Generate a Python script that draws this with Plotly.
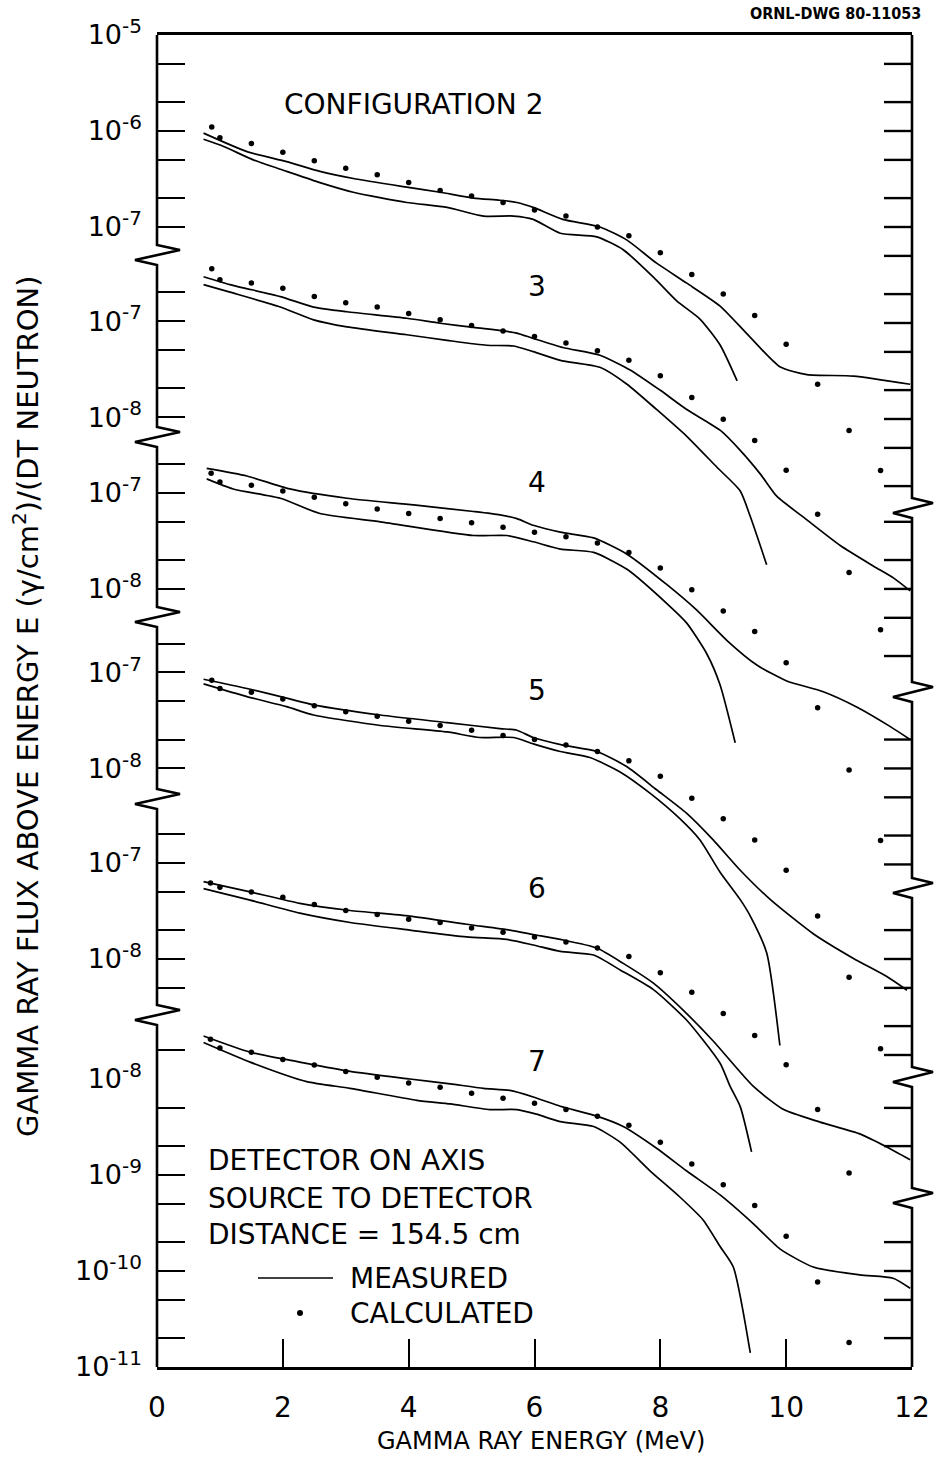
import numpy as np
import plotly.graph_objects as go

# ---------------- data ----------------
# Calculated points: energies (MeV)
calc_E = [0.87, 1.0, 1.5, 2.0, 2.5, 3.0, 3.5, 4.0, 4.5, 5.0, 5.5, 6.0, 6.5,
          7.0, 7.5, 8.0, 8.5, 9.0, 9.5, 10.0, 10.5, 11.0, 11.5]

# Configuration 2
c2_hi_E = [0.74, 1.43, 2.06, 2.59, 3.12, 3.97, 4.50, 5.03, 5.45, 5.72, 5.98, 6.45, 7.04, 7.47,
           7.94, 8.42, 8.95, 9.37, 9.90, 10.33, 11.07, 11.97]
c2_hi = [9.5e-7, 6.1e-7, 4.8e-7, 3.8e-7, 3.2e-7, 2.6e-7, 2.3e-7, 2.0e-7, 1.9e-7, 1.8e-7, 1.6e-7,
         1.2e-7, 1.0e-7, 7.3e-8, 4.2e-8, 2.6e-8, 1.5e-8, 7.8e-9, 3.5e-9, 2.9e-9, 2.8e-9, 2.3e-9]
c2_lo_E = [0.74, 1.06, 1.53, 2.06, 2.59, 3.12, 3.97, 4.61, 5.19, 5.67, 5.98, 6.41, 6.99, 7.41,
           7.89, 8.26, 8.63, 8.95, 9.22]
c2_lo = [8.2e-7, 6.9e-7, 5.0e-7, 3.8e-7, 2.9e-7, 2.3e-7, 1.8e-7, 1.6e-7, 1.3e-7, 1.3e-7, 1.2e-7,
         8.6e-8, 7.9e-8, 5.8e-8, 3.0e-8, 1.7e-8, 1.1e-8, 5.9e-9, 2.5e-9]
c2_calc = [1.1e-6, 8.5e-7, 7.4e-7, 6.0e-7, 4.9e-7, 4.1e-7, 3.5e-7, 2.9e-7, 2.4e-7, 2.1e-7, 1.8e-7,
           1.5e-7, 1.3e-7, 1.0e-7, 8.1e-8, 5.4e-8, 3.2e-8, 2.0e-8, 1.2e-8, 6.0e-9, 2.3e-9,
           7.6e-10, 2.9e-10]

# Configuration 3
c3_hi_E = [0.74, 1.16, 1.96, 2.49, 3.02, 3.97, 4.50, 5.03, 5.51, 5.72, 5.98, 6.45, 7.04, 7.52,
           8.00, 8.42, 8.95, 9.27, 9.60, 9.85, 10.33, 10.86, 11.39, 11.71, 11.97]
c3_hi = [2.9e-7, 2.4e-7, 1.8e-7, 1.4e-7, 1.25e-7, 1.07e-7, 9.5e-8, 8.6e-8, 7.9e-8, 7.5e-8, 6.6e-8,
         5.3e-8, 4.4e-8, 3.1e-8, 1.9e-8, 1.2e-8, 7.3e-9, 4.5e-9, 2.5e-9, 1.5e-9, 8.5e-10,
         4.6e-10, 2.8e-10, 2.1e-10, 1.55e-10]
c3_lo_E = [0.74, 1.16, 1.96, 2.49, 3.02, 3.97, 4.61, 5.24, 5.67, 5.98, 6.41, 7.04, 7.47, 7.94,
           8.42, 8.90, 9.27, 9.43, 9.69]
c3_lo = [2.4e-7, 2.0e-7, 1.4e-7, 1.03e-7, 8.7e-8, 7.2e-8, 6.3e-8, 5.6e-8, 5.5e-8, 4.8e-8, 3.9e-8,
         3.3e-8, 2.2e-8, 1.2e-8, 6.3e-9, 3.0e-9, 1.7e-9, 9.2e-10, 2.9e-10]
c3_calc = [3.5e-7, 2.7e-7, 2.5e-7, 2.2e-7, 1.8e-7, 1.55e-7, 1.4e-7, 1.2e-7, 1.03e-7, 9.0e-8, 7.9e-8,
           6.9e-8, 5.9e-8, 4.9e-8, 3.9e-8, 2.7e-8, 1.6e-8, 9.5e-9, 5.7e-9, 2.8e-9, 9.7e-10,
           2.4e-10, 6.1e-11]

# Configuration 4
c4_hi_E = [0.79, 1.43, 2.11, 3.02, 4.08, 5.03, 5.45, 5.72, 5.98, 6.41, 6.94, 7.47, 8.11, 8.58,
           9.06, 9.54, 10.01, 10.59, 11.12, 11.65, 11.97]
c4_hi = [1.8e-7, 1.5e-7, 1.1e-7, 8.8e-8, 7.5e-8, 6.4e-8, 5.9e-8, 5.4e-8, 4.6e-8, 3.9e-8, 3.4e-8,
         2.3e-8, 1.1e-8, 6.0e-9, 2.9e-9, 1.6e-9, 1.1e-9, 8.5e-10, 5.9e-10, 3.7e-10, 2.7e-10]
c4_lo_E = [0.79, 1.21, 1.96, 2.59, 3.55, 5.03, 5.56, 5.98, 6.41, 6.94, 7.47, 8.16, 8.42, 8.74,
           8.95, 9.19]
c4_lo = [1.4e-7, 1.1e-7, 8.8e-8, 6.1e-8, 5.0e-8, 3.6e-8, 3.6e-8, 3.1e-8, 2.6e-8, 2.4e-8, 1.6e-8,
         6.5e-9, 4.4e-9, 2.1e-9, 1.0e-9, 2.5e-10]
c4_calc = [1.6e-7, 1.3e-7, 1.2e-7, 1.05e-7, 9.0e-8, 7.7e-8, 6.8e-8, 6.1e-8, 5.4e-8, 4.9e-8, 4.4e-8,
           3.9e-8, 3.5e-8, 3.0e-8, 2.4e-8, 1.65e-8, 9.8e-9, 5.9e-9, 3.6e-9, 1.7e-9, 5.8e-10,
           1.3e-10, 2.4e-11]

# Configuration 5
c5_hi_E = [0.74, 1.43, 2.06, 2.49, 3.55, 4.61, 5.45, 5.72, 5.98, 6.45, 6.99, 7.47, 7.94, 8.42,
           8.84, 9.27, 9.75, 10.43, 11.07, 11.60, 11.92]
c5_hi = [8.5e-8, 6.8e-8, 5.4e-8, 4.6e-8, 3.6e-8, 3.0e-8, 2.6e-8, 2.5e-8, 2.1e-8, 1.75e-8, 1.5e-8,
         1.04e-8, 6.0e-9, 3.4e-9, 1.8e-9, 8.7e-10, 4.3e-10, 1.9e-10, 1.05e-10,
         6.8e-11, 4.9e-11]
c5_lo_E = [0.74, 1.43, 2.06, 2.49, 3.55, 4.61, 5.13, 5.67, 5.98, 6.41, 6.88, 7.36, 7.84, 8.31,
           8.63, 8.95, 9.27, 9.43, 9.69, 9.90]
c5_lo = [7.6e-8, 5.6e-8, 4.4e-8, 3.6e-8, 2.8e-8, 2.4e-8, 2.1e-8, 2.1e-8, 1.8e-8, 1.5e-8, 1.3e-8,
         9.2e-9, 5.5e-9, 3.0e-9, 1.8e-9, 8.3e-10, 4.3e-10, 2.9e-10, 1.2e-10, 1.3e-11]
c5_calc = [8.3e-8, 6.8e-8, 6.2e-8, 5.3e-8, 4.5e-8, 3.9e-8, 3.5e-8, 3.1e-8, 2.8e-8, 2.5e-8, 2.2e-8,
           2.0e-8, 1.75e-8, 1.5e-8, 1.2e-8, 8.3e-9, 4.9e-9, 3.0e-9, 1.8e-9, 8.7e-10, 2.9e-10,
           6.7e-11, 1.2e-11]

# Configuration 6
c6_hi_E = [0.74, 1.48, 2.27, 3.07, 4.02, 4.92, 5.61, 5.98, 6.41, 6.99, 7.41, 7.89, 8.37, 8.84,
           9.48, 9.96, 10.54, 11.18, 11.60, 11.97]
c6_hi = [6.4e-8, 5.0e-8, 3.8e-8, 3.2e-8, 2.8e-8, 2.3e-8, 2.0e-8, 1.8e-8, 1.6e-8, 1.3e-8, 9.0e-9,
         5.6e-9, 2.9e-9, 1.4e-9, 4.7e-10, 2.7e-10, 2.0e-10, 1.5e-10, 1.1e-10, 8.1e-11]
c6_lo_E = [0.74, 1.48, 2.27, 3.07, 4.02, 4.92, 5.56, 5.98, 6.41, 6.94, 7.36, 7.89, 8.42, 8.95,
           9.11, 9.27, 9.45]
c6_lo = [5.4e-8, 4.1e-8, 3.0e-8, 2.4e-8, 2.0e-8, 1.7e-8, 1.6e-8, 1.4e-8, 1.2e-8, 1.1e-8, 7.7e-9,
         4.8e-9, 2.3e-9, 8.2e-10, 4.7e-10, 2.9e-10, 9.8e-11]
c6_calc = [6.2e-8, 5.6e-8, 5.0e-8, 4.4e-8, 3.7e-8, 3.2e-8, 2.9e-8, 2.6e-8, 2.4e-8, 2.1e-8, 1.9e-8,
           1.7e-8, 1.5e-8, 1.3e-8, 1.06e-8, 7.2e-9, 4.5e-9, 2.7e-9, 1.6e-9, 7.9e-10, 2.7e-10,
           5.9e-11]

# Configuration 7
c7_hi_E = [0.74, 1.48, 2.27, 3.07, 4.02, 4.66, 5.19, 5.61, 5.98, 6.41, 6.99, 7.41, 7.94, 8.42,
           8.95, 9.48, 9.90, 10.43, 11.17, 11.70, 11.97]
c7_hi = [2.8e-8, 1.9e-8, 1.5e-8, 1.2e-8, 1.0e-8, 8.9e-9, 8.0e-9, 7.6e-9, 6.5e-9, 5.2e-9, 4.1e-9,
         3.2e-9, 1.9e-9, 1.1e-9, 6.2e-10, 3.1e-10, 1.7e-10, 1.1e-10, 9.1e-11, 8.4e-11, 6.6e-11]
c7_lo_E = [0.74, 1.48, 2.38, 3.07, 4.13, 4.66, 5.29, 5.72, 6.03, 6.41, 6.94, 7.36, 7.84, 8.31,
           8.68, 8.95, 9.16, 9.43]
c7_lo = [2.4e-8, 1.5e-8, 9.4e-9, 8.0e-9, 6.0e-9, 5.5e-9, 4.8e-9, 4.8e-9, 4.3e-9, 3.6e-9, 3.2e-9,
         2.2e-9, 1.1e-9, 5.9e-10, 3.4e-10, 1.8e-10, 1.1e-10, 1.4e-11]
c7_calc = [2.6e-8, 2.1e-8, 1.9e-8, 1.6e-8, 1.4e-8, 1.2e-8, 1.04e-8, 9.1e-9, 8.2e-9, 7.1e-9, 6.3e-9,
           5.6e-9, 4.8e-9, 4.1e-9, 3.3e-9, 2.2e-9, 1.3e-9, 7.9e-10, 4.8e-10, 2.3e-10, 7.7e-11,
           1.8e-11]

# x-axis ticks
x_ticks = [0, 2, 4, 6, 8, 10, 12]

# left-axis tick marks (each in its own configuration's stacked scale)
left_ticks = {
    2: [5e-6, 2e-6, 1e-6, 5e-7, 2e-7, 1e-7],
    3: [2e-7, 1e-7, 5e-8, 2e-8, 1e-8],
    4: [2e-7, 1e-7, 5e-8, 2e-8, 1e-8],
    5: [2e-7, 1e-7, 5e-8, 2e-8, 1e-8],
    6: [2e-7, 1e-7, 5e-8, 2e-8, 1e-8, 5e-9],
    7: [2e-8, 5e-9, 2e-9, 1e-9, 5e-10, 2e-10, 1e-10, 5e-11, 2e-11],
}
# left-axis labelled values
left_labels = {
    2: [1e-5, 1e-6, 1e-7], 3: [1e-7, 1e-8], 4: [1e-7, 1e-8], 5: [1e-7, 1e-8],
    6: [1e-7, 1e-8], 7: [1e-8, 1e-9, 1e-10, 1e-11],
}
# right-axis tick marks
right_ticks = [
    (2, [5e-6, 2e-6, 1e-6, 5e-7, 2e-7, 1e-7, 5e-8, 2e-8, 1e-8, 5e-9, 2e-9, 1e-9, 5e-10, 2e-10]),
    (4, [5e-8, 2e-8, 1e-8, 5e-9, 2e-9]),
    (5, [2e-8, 1e-8, 5e-9, 2e-9, 1e-9]),
    (6, [2e-8, 1e-8, 5e-9, 2e-9, 1e-9]),
    (7, [5e-9, 2e-9]),
    (7, [2e-10, 1e-10, 5e-11, 2e-11]),
]

# ---------------- layout constants ----------------
# vertical displacement (in decades) of each stacked configuration
SHIFT = {2: 0.0, 3: 0.98, 4: 2.77, 5: 4.64, 6: 6.625, 7: 7.875}
Y_RANGE = [-18.875, -5.0]

W, H = 935, 1464
ML, MR, MT, MB = 157, 23, 35, 97
PW, PH = W - ML - MR, H - MT - MB
FONT = "DejaVu Sans"
TICKLEN = 28


def stack(cfg, vals):
    return (np.asarray(vals, dtype=float) * 10.0 ** (-SHIFT[cfg])).tolist()


def sup(v):
    return "10<sup><span style='font-size:20px'>%d</span></sup>" % int(round(np.log10(v)))


def pxx(x):
    return (x - ML) / PW


def pxy(y):
    return 1 - (y - MT) / PH


def log_to_paper(v):
    return (np.log10(v) - Y_RANGE[0]) / (Y_RANGE[1] - Y_RANGE[0])


fig = go.Figure()

series = [
    (2, c2_hi_E, c2_hi, c2_lo_E, c2_lo, calc_E, c2_calc),
    (3, c3_hi_E, c3_hi, c3_lo_E, c3_lo, calc_E, c3_calc),
    (4, c4_hi_E, c4_hi, c4_lo_E, c4_lo, [0.86] + calc_E[1:], c4_calc),
    (5, c5_hi_E, c5_hi, c5_lo_E, c5_lo, calc_E, c5_calc),
    (6, c6_hi_E, c6_hi, c6_lo_E, c6_lo, [0.85] + calc_E[1:len(c6_calc)], c6_calc),
    (7, c7_hi_E, c7_hi, c7_lo_E, c7_lo, [0.85] + calc_E[1:len(c7_calc)], c7_calc),
]
for cfg, he, hv, le, lv, ce, cv in series:
    for ee, vv in ((he, hv), (le, lv)):
        fig.add_trace(go.Scatter(x=ee, y=stack(cfg, vv), mode="lines",
                                 line=dict(color="black", width=1.7, shape="spline", smoothing=0.6),
                                 showlegend=False, hoverinfo="skip"))
    fig.add_trace(go.Scatter(x=ce, y=stack(cfg, cv), mode="markers",
                             marker=dict(color="black", size=5.5),
                             showlegend=False, hoverinfo="skip"))

lab_v, lab_t = [], []
for cfg, vals in left_labels.items():
    for v in vals:
        lab_v.append(v * 10.0 ** (-SHIFT[cfg]))
        lab_t.append(sup(v))
ltv = []
for cfg, vals in left_ticks.items():
    ltv += stack(cfg, vals)
rtv = []
for cfg, vals in right_ticks:
    rtv += stack(cfg, vals)

# frame with axis breaks (pixel rows of the break marks)
LEFT_BREAKS = [255, 437, 617, 799, 1015]
RIGHT_BREAKS = [508, 692, 888, 1077, 1198]


def frame_path(xa, breaks, dx_in, dx_out):
    pts = [(xa, MT)]
    for c in breaks:
        pts += [(xa, c - 10), (xa + dx_in, c - 5), (xa + dx_out, c + 5), (xa, c + 10)]
    pts.append((xa, MT + PH))
    return "M " + " L ".join("%.5f %.5f" % (pxx(a), pxy(b)) for a, b in pts)


shapes = [
    dict(type="path", xref="paper", yref="paper", path=frame_path(ML, LEFT_BREAKS, 23, -22),
         line=dict(color="black", width=2.6)),
    dict(type="path", xref="paper", yref="paper",
         path=frame_path(ML + PW, RIGHT_BREAKS, 21, -19),
         line=dict(color="black", width=2.6)),
    # legend sample line and dot
    dict(type="line", xref="paper", yref="paper", x0=pxx(258), x1=pxx(333), y0=pxy(1278),
         y1=pxy(1278), line=dict(color="black", width=1.7)),
    dict(type="circle", xref="paper", yref="paper", x0=pxx(297), x1=pxx(303),
         y0=pxy(1316), y1=pxy(1310), fillcolor="black", line=dict(color="black", width=0)),
]
# right-hand tick marks, placed on the log y scale
for v in rtv:
    yp = float(log_to_paper(v))
    shapes.append(dict(type="line", xref="paper", yref="paper", x0=1 - TICKLEN / PW, x1=1,
                       y0=yp, y1=yp, line=dict(color="black", width=2.4)))

ann = []


def text(x, y, s, size=26, xanchor="center", angle=0, weight="normal", family=FONT):
    ann.append(dict(x=pxx(x), y=pxy(y), xref="paper", yref="paper", text=s, showarrow=False,
                    xanchor=xanchor, yanchor="middle", textangle=angle,
                    font=dict(family=family, size=size, color="black", weight=weight)))


text(923, 13, "ORNL-DWG 80-11053", size=16, xanchor="right", weight="bold",
     family="DejaVu Sans Condensed, Liberation Sans Narrow, DejaVu Sans")
text(413, 104, "CONFIGURATION 2", size=28)
for lab, yy in (("3", 286), ("4", 482), ("5", 690), ("6", 888), ("7", 1061)):
    text(537, yy, lab, size=28)
text(206, 1160, "DETECTOR ON AXIS", size=28, xanchor="left")
text(206, 1198, "SOURCE TO DETECTOR", size=28, xanchor="left")
text(206, 1234, "DISTANCE = 154.5 cm", size=28, xanchor="left")
text(348, 1278, "MEASURED", size=28, xanchor="left")
text(348, 1313, "CALCULATED", size=28, xanchor="left")
text(541, 1441, "GAMMA RAY ENERGY (MeV)", size=24)
text(26, 707, "GAMMA RAY FLUX ABOVE ENERGY E (γ/cm<sup>2</sup>)/(DT NEUTRON)", size=29, angle=-90)

fig.update_layout(
    width=W, height=H, margin=dict(l=ML, r=MR, t=MT, b=MB, autoexpand=False),
    paper_bgcolor="white", plot_bgcolor="white",
    font=dict(family=FONT, color="black"),
    xaxis=dict(range=[0, 12], tickvals=x_ticks, ticktext=[str(t) for t in x_ticks],
               ticks="inside", ticklen=TICKLEN, tickwidth=2.4, tickcolor="black",
               showline=True, mirror=True, linecolor="black", linewidth=2.6,
               showgrid=False, zeroline=False, ticklabelstandoff=14, automargin=False,
               tickfont=dict(family=FONT, size=28, color="black")),
    yaxis=dict(type="log", range=Y_RANGE, tickvals=lab_v, ticktext=lab_t,
               ticks="", showline=False, showgrid=False, zeroline=False,
               ticklabelstandoff=14, automargin=False,
               tickfont=dict(family=FONT, size=27, color="black"),
               minor=dict(tickvals=ltv, ticks="inside", ticklen=TICKLEN, tickwidth=2.4,
                          tickcolor="black", showgrid=False)),
    shapes=shapes, annotations=ann, showlegend=False,
)

fig.write_html("out.html")
